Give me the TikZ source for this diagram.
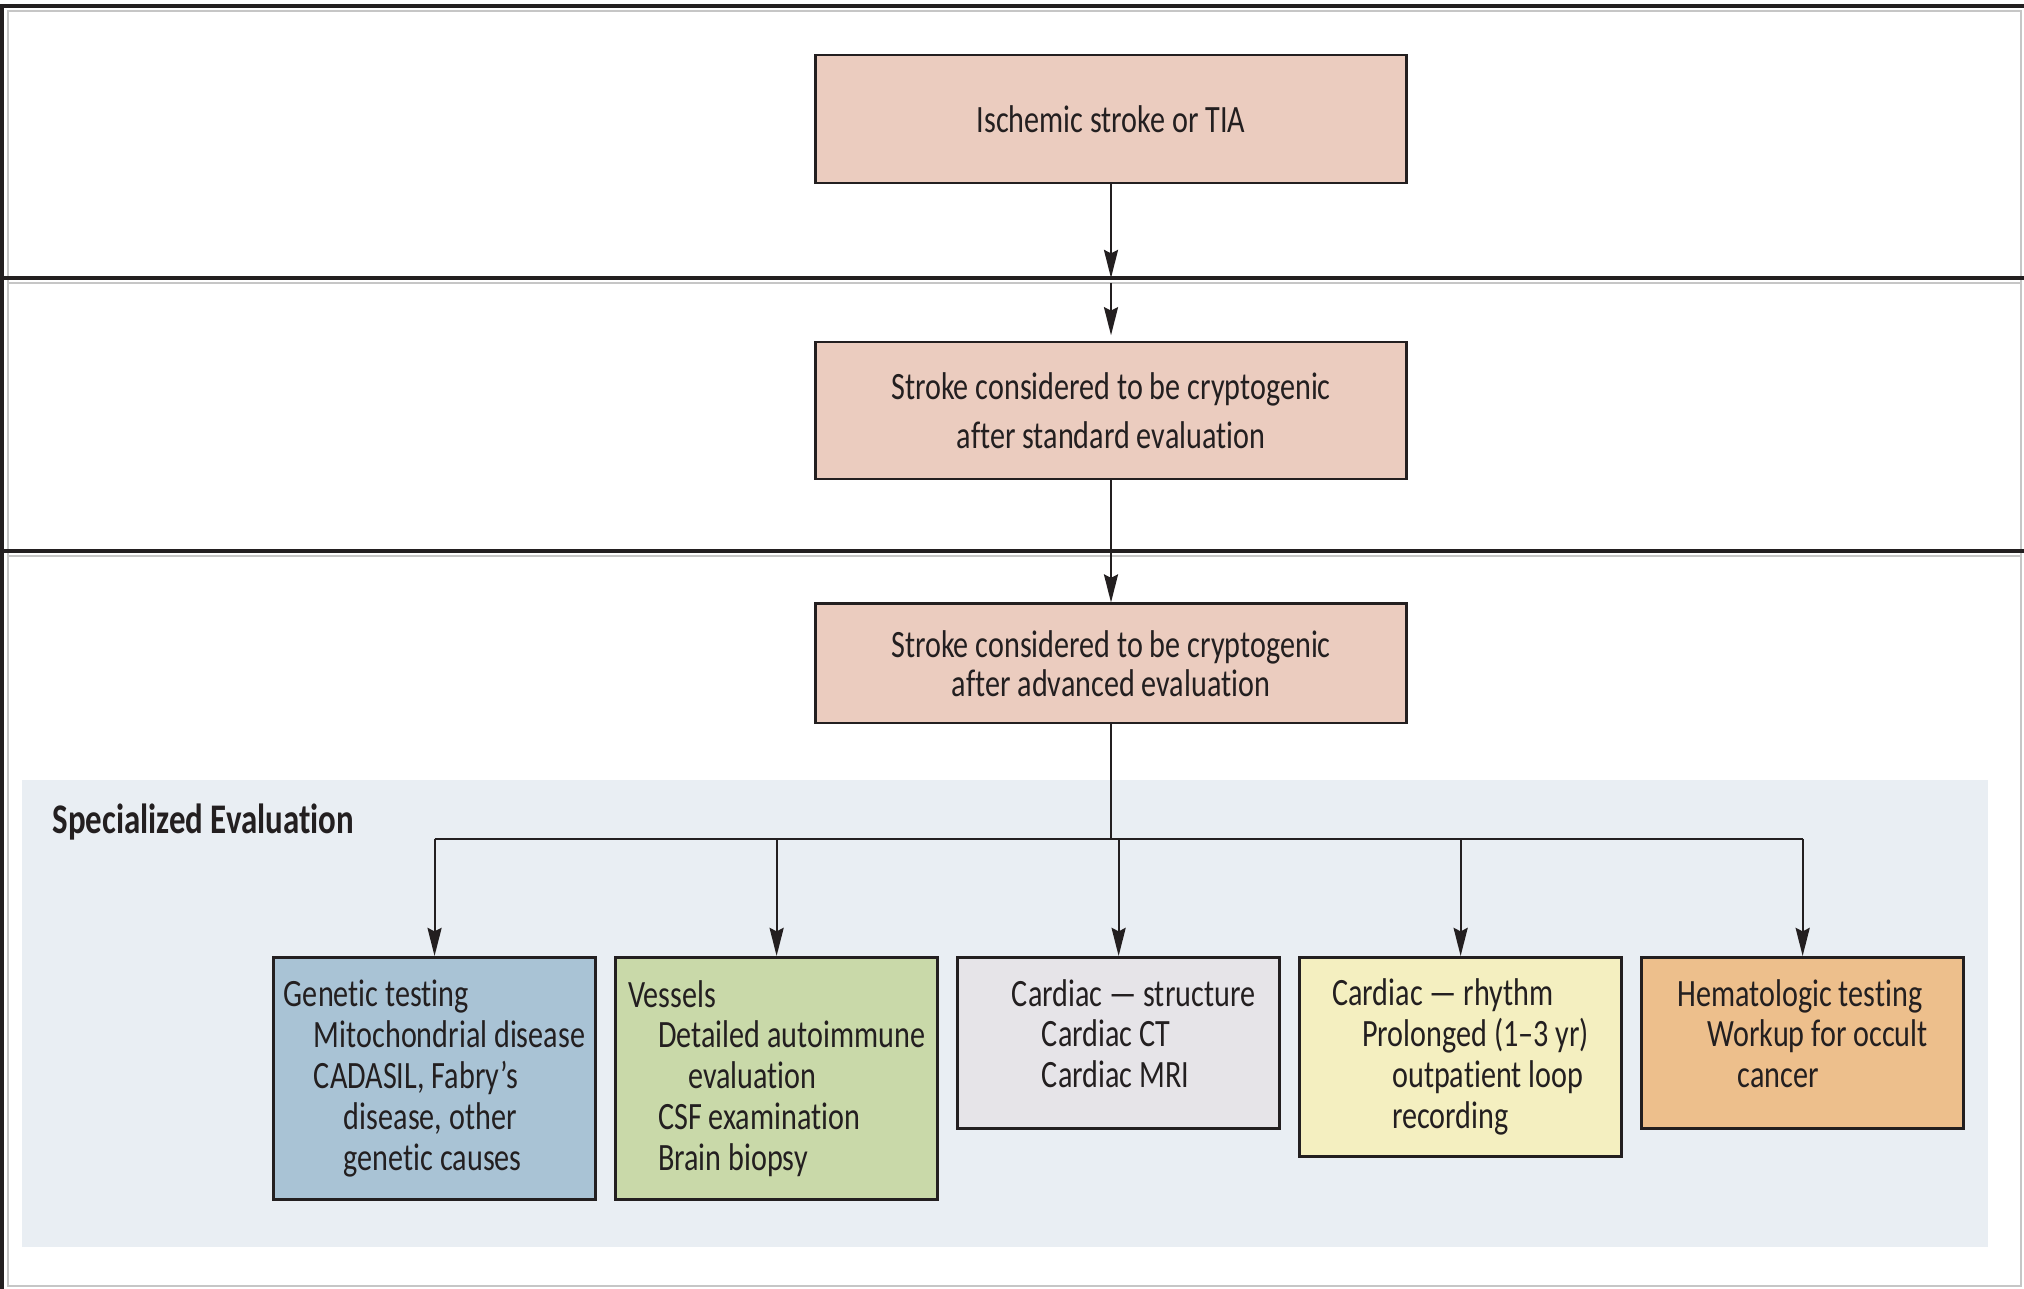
\documentclass[tikz,border=0pt]{standalone}
\usepackage{fontspec}
\setmainfont[FakeStretch=0.78, Ligatures=NoCommon]{Carlito}
\usepackage{tikz}
\usetikzlibrary{arrows.meta,positioning}

\definecolor{ink}{HTML}{231F20}
\definecolor{salmon}{HTML}{EBCCBF}
\definecolor{genblue}{HTML}{A9C3D5}
\definecolor{vesgreen}{HTML}{C9D9A9}
\definecolor{cardgray}{HTML}{E6E4E8}
\definecolor{rhyyellow}{HTML}{F4EFC0}
\definecolor{hemorange}{HTML}{EDBF8C}
\definecolor{bandgray}{HTML}{E9EEF3}

\newcommand{\ind}{\hspace*{0.3cm}}

\begin{document}
\begin{tikzpicture}[
  x=0.01cm, y=-0.01cm,
  font=\fontsize{11}{14}\selectfont,
  box/.style={rectangle, draw=ink, line width=0.8pt, align=center, minimum width=5.9cm, fill=salmon, text=ink},
  sub/.style={rectangle, draw=ink, line width=0.8pt, align=left, minimum width=3.22cm, inner xsep=3pt, text=ink, font=\fontsize{11}{11.6}\selectfont},
  arrow/.style={-{Stealth[length=8pt, width=4pt, inset=1pt]}, line width=0.6pt, draw=ink},
  link/.style={line width=0.6pt, draw=ink},
  divider/.style={draw=ink, line width=0.9pt},
  panel/.style={draw=gray!45, line width=0.6pt},
  evalband/.style={fill=bandgray}
]
\useasboundingbox (0,0) rectangle (2024,1289);

% Panels
\fill[evalband] (22,780) rectangle (1988,1247);
\draw[panel] (8,11) -- (2021,11) -- (2021,1286) -- (8,1286) -- cycle;
\draw[panel] (8,283) -- (2021,283);
\draw[panel] (8,556) -- (2021,556);
\draw[divider] (0,6) -- (2024,6);
\draw[divider] (0,278) -- (2024,278);
\draw[divider] (0,551) -- (2024,551);
\draw[divider] (2,6) -- (2,1289);
\coordinate (sep1) at (0,278);
\coordinate (sep1b) at (0,283);
\coordinate (busy) at (0,839);

% Main path
\node[box, minimum height=1.28cm] (isch) at (1111,119) {Ischemic stroke or TIA};
\node[box, minimum height=1.37cm, below=1.56cm of isch] (std) {Stroke considered to be cryptogenic\\after standard evaluation};
\node[box, minimum height=1.19cm, below=1.22cm of std, font=\fontsize{11}{11}\selectfont] (adv) {Stroke considered to be cryptogenic\\after advanced evaluation};

% Specialized evaluation
\node[anchor=base west, inner sep=0pt, text=ink, font=\bfseries\fontsize{12}{14}\selectfont] (spec) at (52,834) {Specialized Evaluation};

\node[sub, fill=genblue, minimum height=2.42cm, anchor=north west] (gen) at (272,956)
  {Genetic testing\\\ind Mitochondrial disease\\\ind CADASIL, Fabry's\\\ind\ind disease, other\\\ind\ind genetic causes};
\node[sub, fill=vesgreen, minimum height=2.42cm, right=0.17cm of gen.north east, anchor=north west] (ves)
  {Vessels\\\ind Detailed autoimmune\\\ind\ind evaluation\\\ind CSF examination\\\ind Brain biopsy};
\node[sub, fill=cardgray, minimum height=1.71cm, text depth=0.19cm, right=0.17cm of ves.north east, anchor=north west] (cs)
  {\ind Cardiac — structure\\\ind\ind Cardiac CT\\\ind\ind Cardiac MRI};
\node[sub, fill=rhyyellow, minimum height=1.99cm, right=0.17cm of cs.north east, anchor=north west] (rhy)
  {Cardiac — rhythm\\\ind Prolonged (1–3 yr)\\\ind\ind outpatient loop\\\ind\ind recording};
\node[sub, fill=hemorange, minimum height=1.71cm, text depth=0.19cm, right=0.17cm of rhy.north east, anchor=north west] (hem)
  {Hematologic testing\\\ind Workup for occult\\\ind\ind cancer};

% Arrows
\draw[arrow] (isch) -- (isch |- sep1);
\draw[arrow, shorten >=1.5pt] (isch |- sep1b) -- (std);
\draw[arrow] (std) -- (adv);
\draw[link] (adv) -- (adv |- busy);
\draw[link] (gen |- busy) -- (hem |- busy);
\foreach \n in {gen,ves,cs,rhy,hem}
  \draw[arrow] (\n |- busy) -- (\n);

\end{tikzpicture}
\end{document}
